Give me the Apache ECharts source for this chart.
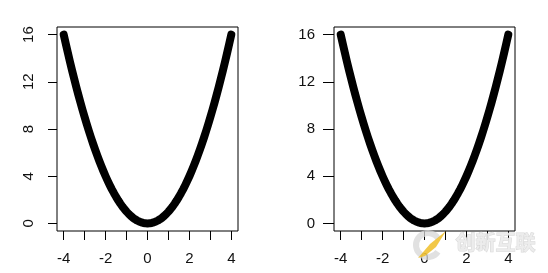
<!DOCTYPE html>
<html>
<head>
<meta charset="utf-8">
<script src="https://cdn.jsdelivr.net/npm/echarts@6/dist/echarts.min.js"></script>
<style>html,body{margin:0;padding:0;background:#fff;}#c{width:548px;height:273px;}</style>
</head>
<body>
<div id="c"></div>
<script>
// Data (points along the curve, same in both panels)
const xValues = [-4.0,-3.9,-3.8,-3.7,-3.6,-3.5,-3.4,-3.3,-3.2,-3.1,-3.0,-2.9,-2.8,-2.7,-2.6,-2.5,-2.4,-2.3,-2.2,-2.1,-2.0,-1.9,-1.8,-1.7,-1.6,-1.5,-1.4,-1.3,-1.2,-1.1,-1.0,-0.9,-0.8,-0.7,-0.6,-0.5,-0.4,-0.3,-0.2,-0.1,0.0,0.1,0.2,0.3,0.4,0.5,0.6,0.7,0.8,0.9,1.0,1.1,1.2,1.3,1.4,1.5,1.6,1.7,1.8,1.9,2.0,2.1,2.2,2.3,2.4,2.5,2.6,2.7,2.8,2.9,3.0,3.1,3.2,3.3,3.4,3.5,3.6,3.7,3.8,3.9,4.0];
const yValues = [16.0,15.21,14.44,13.69,12.96,12.25,11.56,10.89,10.24,9.61,9.0,8.41,7.84,7.29,6.76,6.25,5.76,5.29,4.84,4.41,4.0,3.61,3.24,2.89,2.56,2.25,1.96,1.69,1.44,1.21,1.0,0.81,0.64,0.49,0.36,0.25,0.16,0.09,0.04,0.01,0.0,0.01,0.04,0.09,0.16,0.25,0.36,0.49,0.64,0.81,1.0,1.21,1.44,1.69,1.96,2.25,2.56,2.89,3.24,3.61,4.0,4.41,4.84,5.29,5.76,6.25,6.76,7.29,7.84,8.41,9.0,9.61,10.24,10.89,11.56,12.25,12.96,13.69,14.44,15.21,16.0];
const xTicks = [-4,-3,-2,-1,0,1,2,3,4];
const xTickLabels = [-4,-2,0,2,4];
const yTicks = [0,4,8,12,16];
const watermarkText = '创新互联';

const pts = xValues.map((x,i)=>[x,yValues[i]]);
const FONT = 'Liberation Sans';

function xAxis(gi){
  return {
    type:'value', gridIndex:gi, min:-4.32, max:4.32,
    splitLine:{show:false},
    axisLine:{show:false, onZero:false},
    axisTick:{show:true, inside:false, length:9, customValues:xTicks, lineStyle:{color:'#000',width:1}},
    axisLabel:{show:true, customValues:xTickLabels, margin:20, color:'#111', fontFamily:FONT, fontSize:15}
  };
}
function yAxis(gi, rotated){
  return {
    type:'value', gridIndex:gi, min:-0.64, max:16.64,
    splitLine:{show:false},
    axisLine:{show:false, onZero:false},
    axisTick:{show:true, inside:false, length:rotated ? 9 : 11, customValues:yTicks, lineStyle:{color:'#000',width:1}},
    axisLabel:{show:true, customValues:yTicks, margin: rotated ? 21 : 19, rotate: rotated ? 90 : 0,
      color:'#111', fontFamily:FONT, fontSize:15}
  };
}
function curve(gi){
  return [{
    type:'line', xAxisIndex:gi, yAxisIndex:gi, data:pts,
    showSymbol:false, smooth:false, silent:true,
    lineStyle:{color:'#000', width:8, cap:'round', join:'round'}
  },{
    type:'scatter', xAxisIndex:gi, yAxisIndex:gi, data:[pts[0], pts[pts.length-1]],
    symbol:'circle', symbolSize:2, silent:true,
    itemStyle:{color:'#fff'}
  }];
}

const chart = echarts.init(document.getElementById('c'), null, {renderer:'canvas'});
chart.setOption({
  animation:false,
  backgroundColor:'#fff',
  grid:[
    {left:57, top:27, width:181, height:204, show:true, borderColor:'#000', borderWidth:1, backgroundColor:'transparent'},
    {left:334, top:27, width:181, height:204, show:true, borderColor:'#000', borderWidth:1, backgroundColor:'transparent'}
  ],
  xAxis:[xAxis(0), xAxis(1)],
  yAxis:[yAxis(0,true), yAxis(1,false)],
  series:[...curve(0), ...curve(1)],
  graphic:[
    {type:'arc', silent:true, z:100, shape:{cx:428, cy:245, r:12, startAngle:0.6, endAngle:5.7},
     style:{stroke:'rgba(215,215,215,0.75)', lineWidth:6, fill:'none'}},
    {type:'polygon', silent:true, z:101, shape:{points:[[418,258],[430,244],[446,231],[436,247],[425,256]]},
     style:{fill:'rgba(240,190,40,0.85)'}},
    {type:'text', left:455, top:232, silent:true, z:100,
     style:{text:watermarkText, fill:'rgba(235,235,235,0.9)', stroke:'rgba(190,190,190,0.6)', lineWidth:1, font:'bold 20px "Noto Sans CJK SC"'}}
  ]
});
</script>
</body>
</html>
